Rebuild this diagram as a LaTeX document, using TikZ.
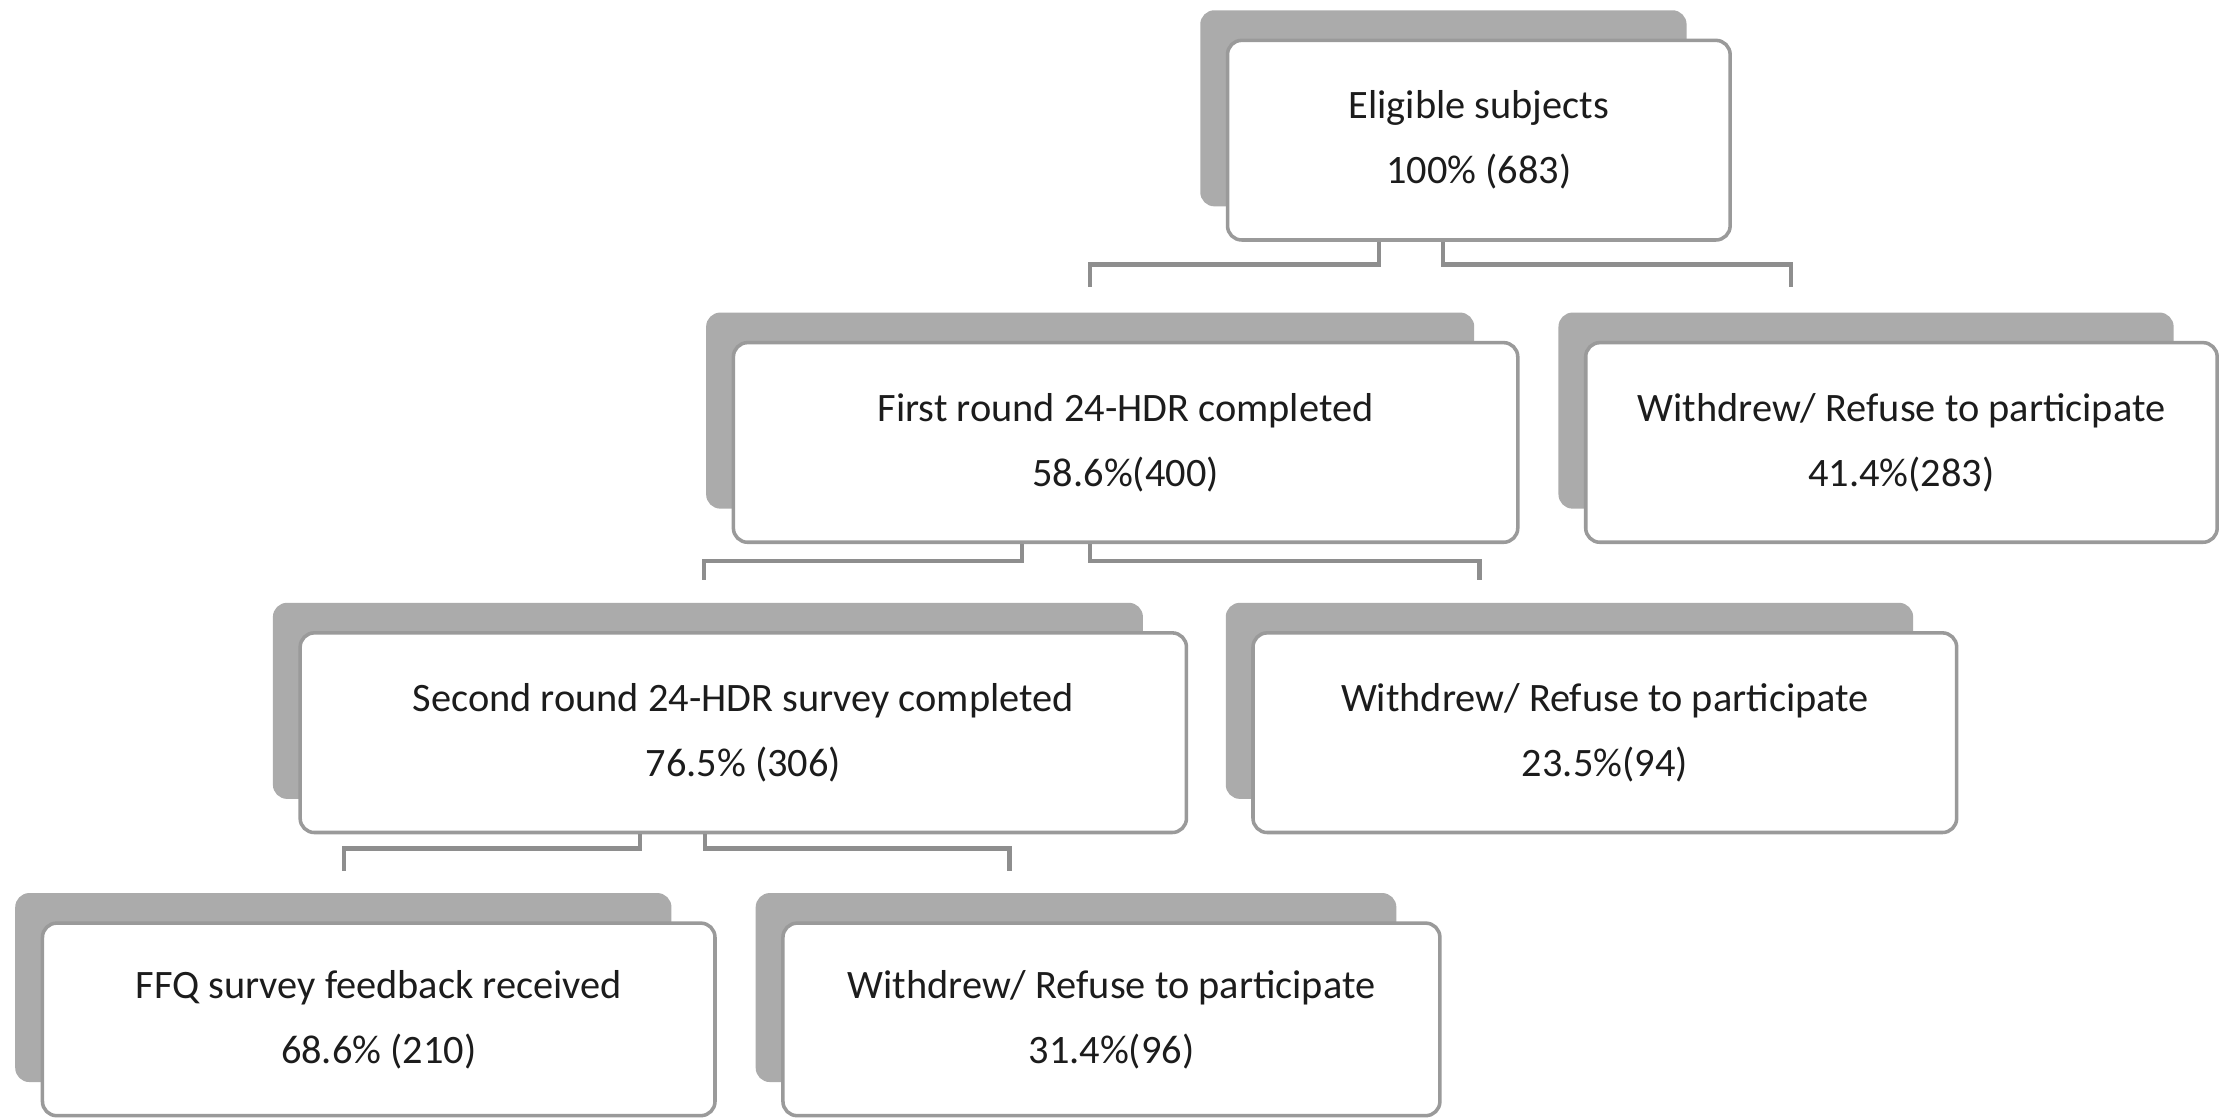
\documentclass[tikz,border=0pt]{standalone}
\usepackage{fontspec}
\setmainfont{Carlito}
\usetikzlibrary{backgrounds}
\definecolor{boxline}{HTML}{9A9A9A}
\definecolor{shadegray}{HTML}{ABABAB}
\definecolor{linkgray}{HTML}{8E8E8E}
\definecolor{txt}{HTML}{1C1C1C}
\tikzset{
  box/.style={draw=boxline, line width=2.5pt, fill=white, rounded corners=10pt,
    align=center, inner sep=0pt, text=txt, minimum height=141pt,
    font=\fontsize{28.5}{46}\selectfont},
  link/.style={draw=linkgray, line width=3pt},
}
\begin{document}
\begin{tikzpicture}[x=1pt, y=-1pt]
	\useasboundingbox (0,0) rectangle (1568,790);
	% boxes
	\node [box, minimum width=355pt] (top) at (1044.5,99) {Eligible subjects\\100\% (683)};
	\node [box, minimum width=554pt] (first) at (795,312.5) {First round 24-HDR completed\\58.6\%(400)};
	\node [box, minimum width=446pt] (wd1) at (1343,312.5) {Withdrew/ Refuse to participate\\41.4\%(283)};
	\node [box, minimum width=626pt] (second) at (525,517.5) {Second round 24-HDR survey completed\\76.5\% (306)};
	\node [box, minimum width=497pt] (wd2) at (1133.5,517.5) {Withdrew/ Refuse to participate\\23.5\%(94)};
	\node [box, minimum width=475pt, minimum height=136pt] (ffq) at (267.5,720) {FFQ survey feedback received\\68.6\% (210)};
	\node [box, minimum width=464pt, minimum height=136pt] (wd3) at (785,720) {Withdrew/ Refuse to participate\\31.4\%(96)};
	% shadows
	\begin{scope}[on background layer]
		\foreach \n in {top,first,wd1,second,wd2,ffq,wd3}
			\fill [shadegray, rounded corners=10pt] ([xshift=-18pt,yshift=20pt]\n.north west) rectangle ([xshift=-32pt,yshift=25pt]\n.south east);
	\end{scope}
	% free ends of the brackets
	\coordinate (a1) at (770,203);
	\coordinate (a2) at (1265,203);
	\coordinate (b1) at (497,410);
	\coordinate (b2) at (1045,410);
	\coordinate (c1) at (243,615);
	\coordinate (c2) at (713,615);
	% brackets
	\draw [link] (top.south -| 974,0) -- ++(0,16) -| (a1);
	\draw [link] (top.south -| 1019,0) -- ++(0,16) -| (a2);
	\draw [link] (first.south -| 722,0) -- ++(0,12) -| (b1);
	\draw [link] (first.south -| 770,0) -- ++(0,12) -| (b2);
	\draw [link] (second.south -| 452,0) -- ++(0,10) -| (c1);
	\draw [link] (second.south -| 498,0) -- ++(0,10) -| (c2);
\end{tikzpicture}
\end{document}
